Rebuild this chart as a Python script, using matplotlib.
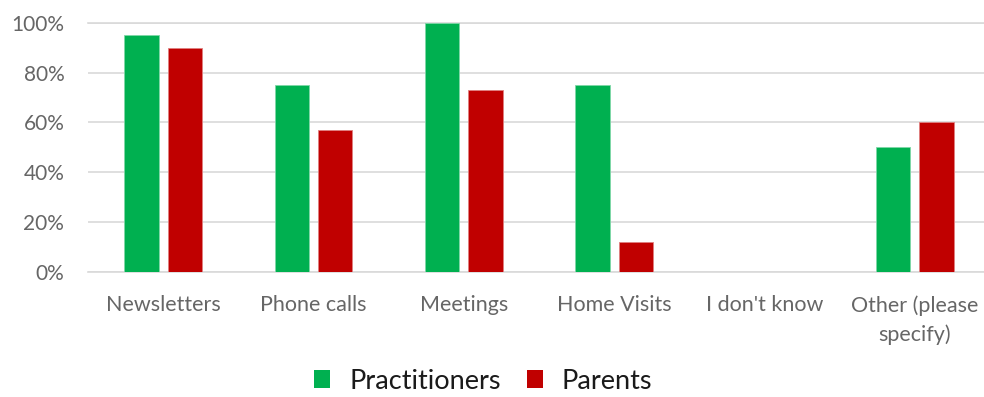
import matplotlib.pyplot as plt
import numpy as np
from matplotlib.ticker import PercentFormatter
from matplotlib.patches import Patch

categories = ["Newsletters", "Phone calls", "Meetings", "Home Visits",
              "I don't know", "Other (please\nspecify)"]
practitioners = [0.95, 0.75, 1.00, 0.75, 0.0, 0.50]
parents = [0.90, 0.57, 0.73, 0.12, 0.0, 0.60]

GREEN = "#00B050"
RED = "#C00000"

plt.rcParams["font.family"] = ["Lato", "DejaVu Sans"]

fig = plt.figure(figsize=(9.84, 3.97), dpi=100)
# plot area runs slightly past the right edge of the figure
ax = fig.add_axes([0.0894, 0.316, 0.9167, 0.626])

x = np.arange(len(categories))
w = 0.228
off = 0.144
ax.bar(x - off, practitioners, w, color=GREEN, edgecolor="#7fd8a8", linewidth=0.6, zorder=3)
ax.bar(x + off, parents, w, color=RED, edgecolor="#e08080", linewidth=0.6, zorder=3)

ax.set_xlim(-0.5, len(categories) - 0.5)
ax.set_ylim(0, 1.0)
ax.set_yticks(np.arange(0, 1.01, 0.2))
ax.yaxis.set_major_formatter(PercentFormatter(1.0, decimals=0))
ax.set_xticks(x)
ax.set_xticklabels(categories, fontsize=15.5, color="#666666", linespacing=1.5, va="top")
ax.tick_params(axis="y", labelsize=15, labelcolor="#666666", length=0, pad=17)
ax.tick_params(axis="x", length=0, pad=17)

ax.grid(axis="y", color="#d9d9d9", linewidth=1.2, zorder=0)
ax.set_axisbelow(True)
for side in ["top", "right", "left", "bottom"]:
    ax.spines[side].set_visible(False)
ax.axhline(0, color="#d9d9d9", linewidth=1.2, zorder=1, clip_on=False)
ax.axhline(1.0, color="#d9d9d9", linewidth=1.2, zorder=1, clip_on=False)

handles = [Patch(facecolor=GREEN, label="Practitioners"),
           Patch(facecolor=RED, label="Parents")]
fig.legend(handles=handles, loc="center", bbox_to_anchor=(0.491, 0.04),
           ncol=2, frameon=False, fontsize=19.5, handlelength=0.6, handleheight=0.6,
           handletextpad=0.7, columnspacing=0.95, borderpad=0, labelcolor="#1a1a1a")

fig.savefig("out.png", dpi=100)
